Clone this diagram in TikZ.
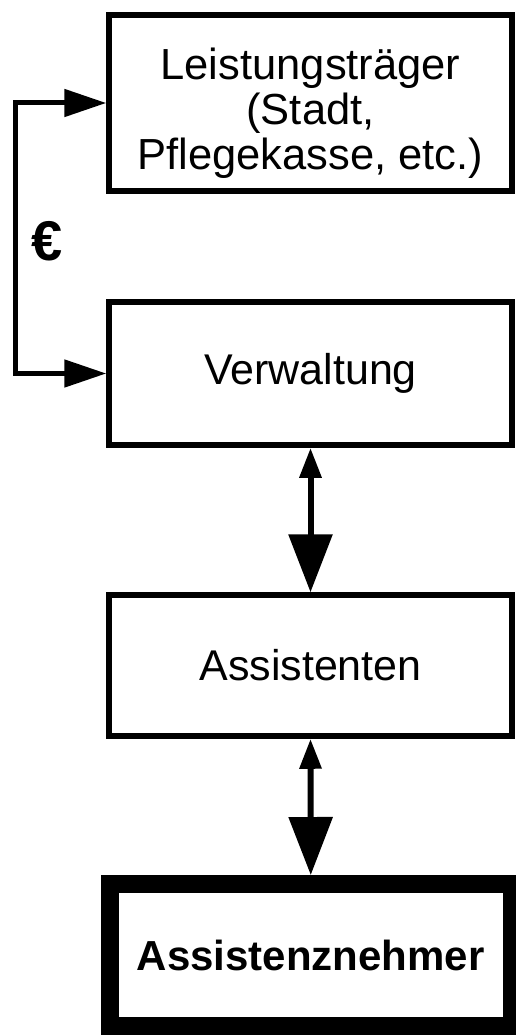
\documentclass[tikz,border=0pt]{standalone}
\usepackage{fontspec}
\setmainfont{Liberation Sans}
\usetikzlibrary{arrows.meta}
\begin{document}
\begin{tikzpicture}[x=1pt,y=-1pt,
  box/.style={draw, line width=5.5pt, rectangle, minimum width=403pt, inner sep=0pt, align=center, font=\fontsize{43}{45}\selectfont},
  conn/.style={line width=5pt, line join=miter},
  bidir/.style={line width=6pt, {Triangle[length=30pt,width=21pt]}-{Triangle[length=58pt,width=43pt]}},
  sidetip/.style={{Triangle[length=42pt,width=27pt]}-{Triangle[length=42pt,width=27pt]}}]
\useasboundingbox (0,0) rectangle (516,1035);
\node[box, minimum height=176pt, label={[yshift=-10pt, align=center, font=\fontsize{43.5}{45}\selectfont]center:Leistungsträger\\(Stadt,\\Pflegekasse, etc.)}] (lt) at (310.5,103) {};
\node[box, minimum height=143pt] (vw) at (310.5,373.5) {Verwaltung};
\node[box, minimum height=141pt] (as) at (310.5,665.5) {Assistenten};
\node[box, line width=18pt, minimum width=402.5pt, minimum height=142pt, font=\bfseries\fontsize{42}{45}\selectfont] (an) at (310.75,955) {Assistenznehmer};
\coordinate (c1) at (15,103);
\coordinate (c2) at (15,373.5);
\draw[conn, sidetip] (lt.west) -- (c1) -- (c2) -- (vw.west);
\node[font=\bfseries\fontsize{56}{56}\selectfont, inner sep=0pt] (eur) at (47,241) {€};
\draw[bidir] (vw.south) -- (as.north);
\draw[bidir] (as.south) -- (an.north);
\end{tikzpicture}
\end{document}
